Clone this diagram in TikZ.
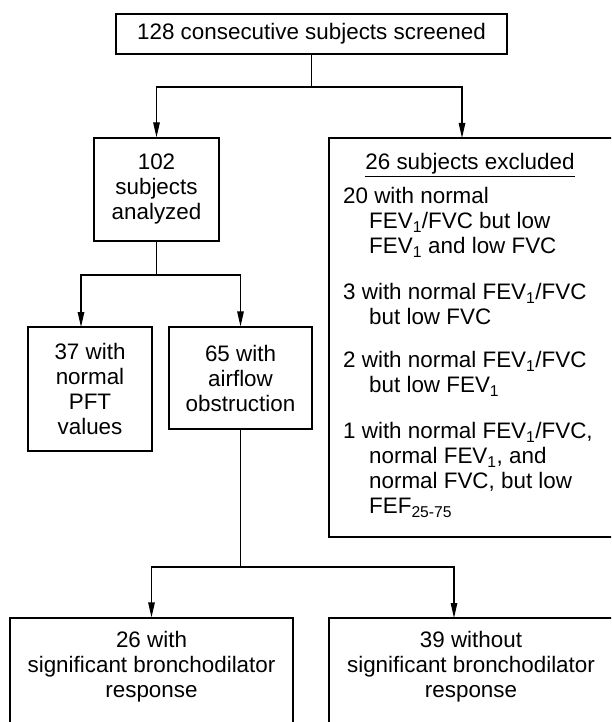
\documentclass[tikz,border=0pt]{standalone}
\usepackage{fontspec}
\setmainfont{Liberation Sans}
\usetikzlibrary{arrows.meta}
\begin{document}
\begin{tikzpicture}[x=1pt,y=-1pt,
  box/.style={draw, line width=1.2pt, inner sep=0pt},
  txt/.style={align=center, inner sep=0pt, font=\fontsize{22.4}{25}\selectfont},
  arr/.style={line width=1.2pt, -{Triangle[length=15pt,width=6.5pt]}},
  con/.style={line width=1.2pt}]
\useasboundingbox (0,0) rectangle (611,722);
\clip (0,0) rectangle (611,722);
% boxes
\node[box, txt, minimum width=391pt, minimum height=40pt] (top) at (311.5,34) {128 consecutive subjects screened};
\node[box, txt, minimum width=125pt, minimum height=103pt] (b102) at (156.5,189.5) {102\\subjects\\analyzed};
\node[box, minimum width=285pt, minimum height=399pt] (excl) at (471.5,337.5) {};
\node[box, txt, minimum width=124pt, minimum height=124pt] (b37) at (90,389) {37 with\\normal\\PFT\\values};
\node[box, txt, minimum width=143pt, minimum height=102pt] (b65) at (240.5,378) {65 with\\airflow\\obstruction};
\node[box, minimum width=283pt, minimum height=142pt] (b26) at (151.5,689) {};
\node[box, minimum width=285pt, minimum height=142pt] (b39) at (471.5,689) {};
% texts
\node[txt, anchor=base] (exttl) at (470,170) {\underline{26 subjects excluded}};
\node[txt, align=left, anchor=north west] (exlist) at (343,187) {%
20 with normal\\
\hspace*{26pt}FEV\textsubscript{1}/FVC but low\\
\hspace*{26pt}FEV\textsubscript{1} and low FVC\\[21pt]
3 with normal FEV\textsubscript{1}/FVC\\
\hspace*{26pt}but low FVC\\[18pt]
2 with normal FEV\textsubscript{1}/FVC\\
\hspace*{26pt}but low FEV\textsubscript{1}\\[21pt]
1 with normal FEV\textsubscript{1}/FVC,\\
\hspace*{26pt}normal FEV\textsubscript{1}, and\\
\hspace*{26pt}normal FVC, but low\\
\hspace*{26pt}FEF\textsubscript{25-75}};
\node[txt] (t26) at (151.5,666.5) {26 with\\significant bronchodilator\\response};
\node[txt] (t39) at (471,666.5) {39 without\\significant bronchodilator\\response};
% connectors
\coordinate (j1) at (311.5,87);
\coordinate (exin) at (462,138);
\draw[con] (top.south) -- (j1);
\draw[arr] (j1) -| (b102.north);
\draw[arr] (j1) -| (exin);
\coordinate (j2) at (156.5,275);
\coordinate (in37) at (81,327);
\draw[con] (b102.south) -- (j2);
\draw[arr] (j2) -| (in37);
\draw[arr] (j2) -| (b65.north);
\coordinate (j3) at (240.5,567);
\coordinate (in39) at (454,618);
\draw[con] (b65.south) -- (j3);
\draw[arr] (j3) -| (b26.north);
\draw[arr] (j3) -| (in39);
\end{tikzpicture}
\end{document}
